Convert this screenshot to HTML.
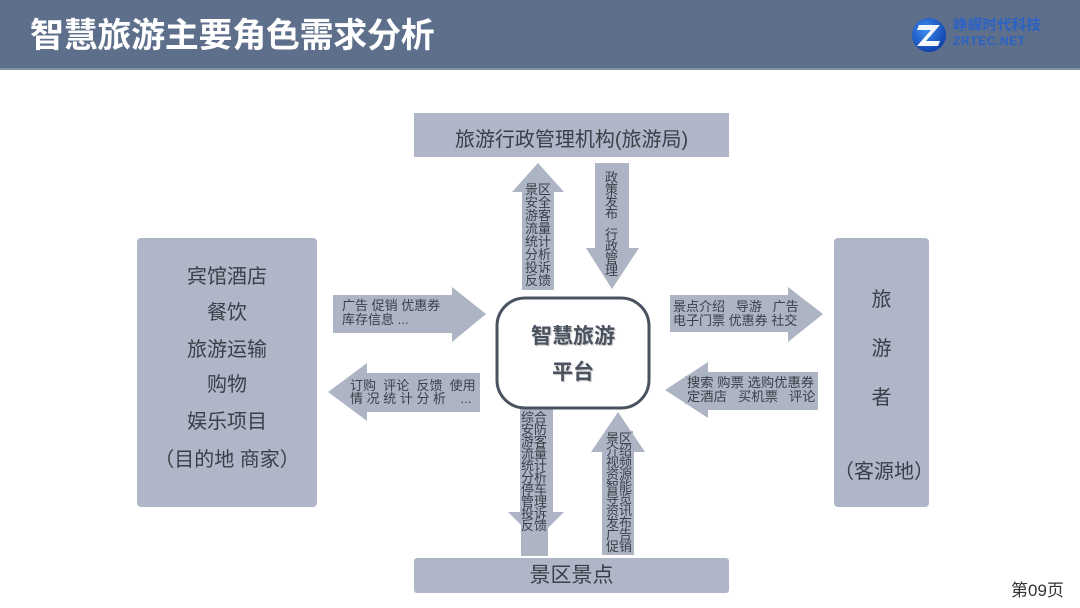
<!DOCTYPE html>
<html><head><meta charset="utf-8">
<style>
*{margin:0;padding:0;box-sizing:border-box}
body{width:1080px;height:608px;position:relative;background:#fff;overflow:hidden;font-family:"Liberation Sans","Noto Sans CJK SC",sans-serif;color:#3a3e47}
.abs{position:absolute;white-space:pre}
.hdr{position:absolute;left:0;top:0;width:1080px;height:70px;background:#5d6f8b;border-bottom:2px solid #8593a6}
.title{position:absolute;left:30px;top:0;height:70px;line-height:72px;font-size:34px;font-weight:bold;color:#fff;letter-spacing:-0.3px}
.c{text-align:center}
.bx{font-size:20px;line-height:24px;color:#3a3e47}
.vt{position:absolute;font-size:13px;line-height:12px;width:27px;white-space:normal;word-break:break-all;background:#adb5c5;color:#3a3e47;overflow:visible}
.ht{position:absolute;font-size:13px;line-height:14px;color:#3a3e47}
</style></head><body>
<div class="hdr"></div>
<div class="title">智慧旅游主要角色需求分析</div>
<svg class="abs" style="left:0;top:0" width="1080" height="608">
  <defs>
    <radialGradient id="lg" cx="40%" cy="35%" r="70%">
      <stop offset="0" stop-color="#3f8df0"/>
      <stop offset="1" stop-color="#0c3fa8"/>
    </radialGradient>
  </defs>
  <circle cx="929" cy="35" r="17" fill="url(#lg)"/>
  <path d="M919 25 L940 25 L926 41 L940 41 L938 46 L917 46 L931 30 L917 30 Z" fill="#ffffff" opacity="0.95"/>

  <rect x="414" y="113" width="315" height="44" fill="#aeb6c7"/>
  <rect x="137" y="238" width="180" height="269" rx="4" fill="#aeb6c7"/>
  <rect x="834" y="238" width="95" height="269" rx="4" fill="#aeb6c7"/>
  <rect x="414" y="558" width="315" height="35" rx="3" fill="#aeb6c7"/>

  <polygon points="538,163 564,192 554,192 554,290 522,290 522,192 512,192" fill="#adb5c5"/>
  <polygon points="595,163 629,163 629,248 639,248 612,289 586,248 595,248" fill="#adb5c5"/>
  <polygon points="520,409 553,409 553,512 564,512 536,540 508,512 520,512" fill="#adb5c5"/>
  <polygon points="618,412 645,452 634,452 634,555 602,555 602,452 591,452" fill="#adb5c5"/>

  <polygon points="333,295 452,295 452,287 486,314 452,342 452,333 333,333" fill="#adb5c5"/>
  <polygon points="328,392 367,363 367,373 480,373 480,412 367,412 367,421" fill="#adb5c5"/>
  <polygon points="670,295 788,295 788,287 823,314 788,342 788,332 670,332" fill="#adb5c5"/>
  <polygon points="665,390 708,362 708,372 818,372 818,410 708,410 708,418" fill="#adb5c5"/>

  <rect x="497" y="298" width="152" height="110" rx="28" fill="#fff" stroke="#4a5260" stroke-width="3"/>
</svg>

<div class="abs" style="left:953px;top:18px;font-size:14.5px;line-height:16px;font-weight:bold;color:#2b62c6;letter-spacing:0.2px">峥嵘时代科技</div>
<div class="abs" style="left:953px;top:34px;font-size:12px;line-height:14px;font-weight:bold;color:#2b62c6;letter-spacing:0.6px">ZRTEC.NET</div>

<div class="abs c bx" style="left:414px;top:128px;width:315px">旅游行政管理机构(旅游局)</div>
<div class="abs c bx" style="left:414px;top:564px;width:315px;font-size:21px">景区景点</div>

<div class="abs c bx" style="left:137px;top:265px;width:180px">宾馆酒店</div>
<div class="abs c bx" style="left:137px;top:301px;width:180px">餐饮</div>
<div class="abs c bx" style="left:137px;top:338px;width:180px">旅游运输</div>
<div class="abs c bx" style="left:137px;top:373px;width:180px">购物</div>
<div class="abs c bx" style="left:137px;top:410px;width:180px">娱乐项目</div>
<div class="abs c bx" style="left:137px;top:448px;width:180px">（目的地 商家）</div>

<div class="abs c bx" style="left:834px;top:288px;width:95px">旅</div>
<div class="abs c bx" style="left:834px;top:337px;width:95px">游</div>
<div class="abs c bx" style="left:834px;top:386px;width:95px">者</div>
<div class="abs c bx" style="left:834px;top:460px;width:100px">（客源地）</div>

<div class="abs c" style="left:497px;top:324px;width:152px;font-size:21px;line-height:26px;font-weight:bold;color:#4a5260;text-shadow:1px 1px 1px rgba(0,0,0,0.25)">智慧旅游</div>
<div class="abs c" style="left:497px;top:360px;width:152px;font-size:21px;line-height:26px;font-weight:bold;color:#4a5260;text-shadow:1px 1px 1px rgba(0,0,0,0.25)">平台</div>

<div class="vt" style="left:525px;top:182px;height:108px;padding-top:1px;line-height:13px">景区安全游客流量统计分析投诉反馈</div>
<div class="abs" style="left:605px;top:172px;font-size:13px;line-height:12px;color:#3a3e47">政<br>策<br>发<br>布<br><span style="display:block;height:9px"></span>行<br>政<br>管<br>理</div>
<div class="vt" style="left:521px;top:410px;height:146px;padding-top:2px">综合安防游客流量统计分析停车管理投诉反馈</div>
<div class="vt" style="left:606px;top:431px;height:124px;padding-top:2px">景区介绍视频资源智能导览资讯发布广告促销</div>

<div class="ht abs" style="left:342px;top:299px">广告 促销 优惠券
库存信息 ...</div>
<div class="ht abs" style="left:348px;top:379px;background:#adb5c5;width:132px;line-height:13px;padding-left:2px">订购  评论  反馈  使用
情 况 统 计 分 析    ...</div>
<div class="ht abs" style="left:673px;top:300px">景点介绍   导游   广告
电子门票 优惠券 社交</div>
<div class="ht abs" style="left:685px;top:376px;background:#adb5c5;width:133px;padding-left:2px;font-size:13.3px">搜索 购票 选购优惠券
定酒店   买机票   评论</div>

<div class="abs" style="left:1011px;top:581px;font-size:17px;line-height:20px;color:#333">第09页</div>
</body></html>
